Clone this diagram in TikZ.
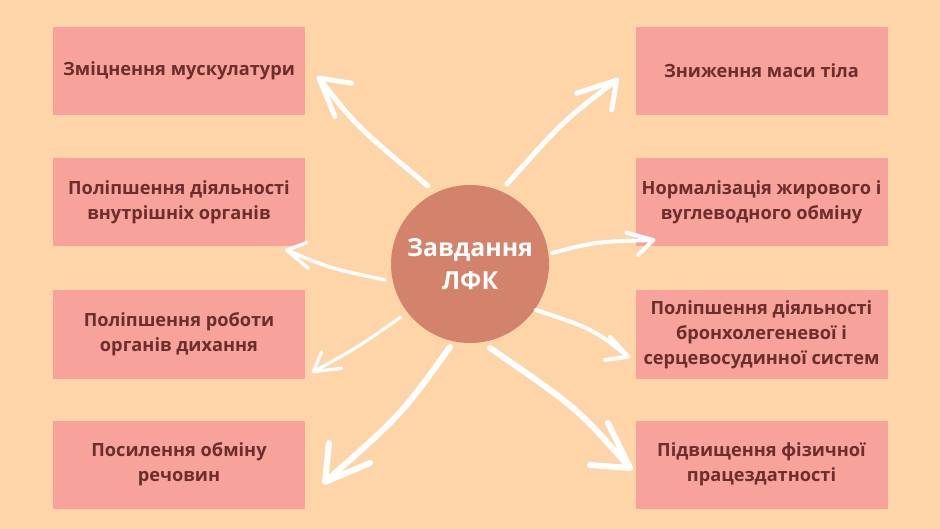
\documentclass[tikz,border=0pt]{standalone}
\usepackage{fontspec}
\setmainfont{Open Sans}
\definecolor{bg}{HTML}{FDD5A8}
\definecolor{boxc}{HTML}{F7A29A}
\definecolor{circc}{HTML}{D3826C}
\definecolor{txt}{HTML}{6B2E2C}
\tikzset{
  taskbox/.style={fill=boxc, minimum width=252pt, minimum height=88pt, inner sep=0pt,
    align=center, text=txt, font=\fontsize{18.2}{25}\selectfont\bfseries},
  arr/.style={draw=white, line cap=round, line join=round},
}
\begin{document}
\begin{tikzpicture}[x=1pt,y=-1pt]
\fill[bg] (0,0) rectangle (940,529);
\useasboundingbox (0,0) rectangle (940,529);
% boxes
\node[taskbox] (l1) at (179,71) {Зміцнення мускулатури};
\node[taskbox] (l2) at (179,202) {Поліпшення діяльності\\внутрішніх органів};
\node[taskbox] (l3) at (179,334.5) {Поліпшення роботи\\органів дихання};
\node[taskbox] (l4) at (179,464.5) {Посилення обміну\\речовин};
\node[taskbox] (r1) at (761.5,71) {Зниження маси тіла};
\node[taskbox] (r2) at (761.5,202) {Нормалізація жирового і\\вуглеводного обміну};
\node[taskbox] (r3) at (761.5,334.5) {Поліпшення діяльності\\бронхолегеневої і\\серцевосудинної систем};
\node[taskbox] (r4) at (761.5,464.5) {Підвищення фізичної\\працездатності};
% centre
\node[circle, fill=circc, minimum size=158pt, inner sep=0pt, text=white, align=center,
  font=\fontsize{24.8}{33}\selectfont\bfseries] (c) at (470,264) {Завдання\\ЛФК};
% arrow coordinates
\coordinate (s1) at (428,186); \coordinate (t1) at (319,78);
\coordinate (a1) at (351.7,83.3); \coordinate (b1) at (335,116.7);
\coordinate (s2) at (507,184); \coordinate (t2) at (616.7,80);
\coordinate (a2) at (576.7,93.3); \coordinate (b2) at (611.7,110);
\coordinate (s3) at (385,280); \coordinate (t3) at (286.7,250);
\coordinate (a3) at (306.7,242.7); \coordinate (b3) at (308.3,268.3);
\coordinate (s4) at (552,253); \coordinate (t4) at (653.3,240);
\coordinate (a4) at (626.7,232.7); \coordinate (b4) at (638.3,255);
\coordinate (s5) at (401,317); \coordinate (t5) at (313.3,371.7);
\coordinate (a5) at (321.7,351.7); \coordinate (b5) at (341.7,368.3);
\coordinate (s6) at (536,310); \coordinate (t6) at (628.3,356.7);
\coordinate (a6) at (610,336.7); \coordinate (b6) at (605,360);
\coordinate (s7) at (450,347); \coordinate (t7) at (325,482);
\coordinate (a7) at (329,443); \coordinate (b7) at (370,463);
\coordinate (s8) at (490,348); \coordinate (t8) at (630,468);
\coordinate (a8) at (608,423); \coordinate (b8) at (590,465);
% arrows
\draw[arr, line width=5pt] (s1) .. controls (355.5,125.3) .. (t1) (a1) -- (t1) -- (b1);
\draw[arr, line width=5pt] (s2) .. controls (563.8,120.4) .. (t2) (a2) -- (t2) -- (b2);
\draw[arr, line width=3.5pt] (s3) .. controls (328,267.7) .. (t3) (a3) -- (t3) -- (b3);
\draw[arr, line width=4pt] (s4) .. controls (595.2,241.8) .. (t4) (a4) -- (t4) -- (b4);
\draw[arr, line width=3.2pt] (s5) .. controls (357,347.8) .. (t5) (a5) -- (t5) -- (b5);
\draw[arr, line width=4pt] (s6) .. controls (592.7,328.8) .. (t6) (a6) -- (t6) -- (b6);
\draw[arr, line width=6pt] (s7) .. controls (401.5,414.5) .. (t7) (a7) -- (t7) -- (b7);
\draw[arr, line width=6pt] (s8) .. controls (577.3,408) .. (t8) (a8) -- (t8) -- (b8);
\end{tikzpicture}
\end{document}
